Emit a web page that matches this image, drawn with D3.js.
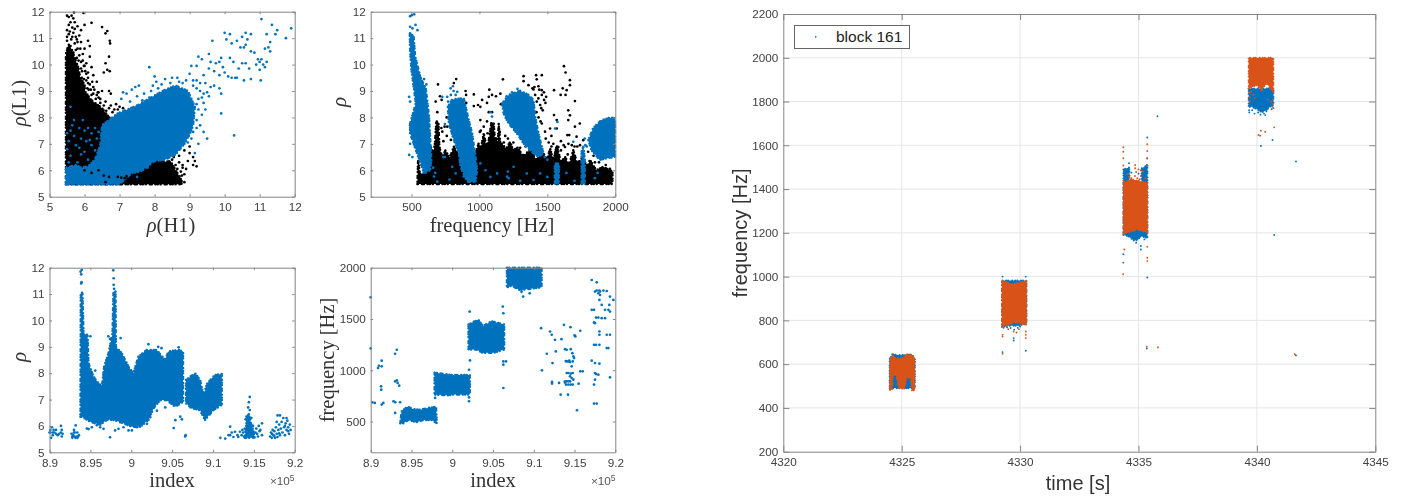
<!DOCTYPE html>
<html>
<head>
<meta charset="utf-8">
<script src="https://d3js.org/d3.v7.min.js"></script>
<style>
  html, body { margin: 0; background: #fff; }
  svg { display: block; filter: blur(0.4px); }
  text { font-family: "Liberation Sans", Arial, sans-serif; fill: #404040; }
  .math { font-family: "Liberation Serif", "DejaVu Serif", serif; fill: #333; }
</style>
</head>
<body>
<svg id="chart" width="1414" height="496"></svg>
<script>
// Colours
const BLUE = '#0072BD';
const ORANGE = '#D95319';
const BLACK = '#000000';

// Tick labels
const rhoTicks = [5, 6, 7, 8, 9, 10, 11, 12];
const freqTicksTop = [500, 1000, 1500, 2000];
const freqTicksBottom = [500, 1000, 1500, 2000];
const indexTicks = [8.9, 8.95, 9, 9.05, 9.1, 9.15, 9.2];
const timeTicks = [4320, 4325, 4330, 4335, 4340, 4345];
const freqTicksRight = [200, 400, 600, 800, 1000, 1200, 1400, 1600, 1800, 2000, 2200];

// rho(H1) vs rho(L1)
const h1l1BlackClouds = [
  [[5.47,5.47],[5.47,10.4],[5.55,10.75],[5.64,10.55],[5.72,10.25],[5.82,9.9],[5.87,9.55],[5.97,9.3],[6.03,8.95],[6.2,8.65],[6.5,8.35],[6.7,8.0],[7.2,7.9],[7.6,7.2],[8.2,6.3],[8.45,6.35],[8.6,6.0],[8.72,5.75],[8.8,5.5],[8.7,5.47]]
];
const h1l1BlackDots = [
  [5.5,11.85],[5.55,11.8],[5.63,11.85],[5.7,11.97],[5.68,11.75],[5.6,11.6],[5.72,11.6],[5.55,11.5],[5.65,11.4],[5.8,11.45],[5.97,11.95],[6.0,11.5],[6.2,11.58],[6.5,11.42],[6.65,11.27],[6.6,11.18],[6.72,10.9],[6.73,10.8],[6.7,10.3],[6.6,10.05],[6.65,9.8],[6.55,9.7],[6.72,9.75],[6.1,10.9],[6.0,10.6],[6.15,10.3],[5.9,10.85],[6.15,10.7],[5.95,10.4],[5.85,11.1],[5.9,11.3],[6.25,9.6],[6.1,9.5],[6.35,9.35],[6.5,9.0],[6.7,9.0],[6.75,8.9],[6.4,8.95],[6.6,8.6],[6.75,8.45],[6.9,8.5],[7.0,8.4],[6.2,9.9],[6.35,8.85],[5.9,9.85],[6.05,10.05],[6.25,9.15],[6.45,8.7],[6.85,8.3],[7.05,8.1],[9.0,6.65],[9.1,6.5],[9.15,6.35],[9.2,6.15],[9.1,6.2],[8.95,6.35],[8.85,6.75],[9.0,6.9],[8.9,6.05],[8.8,6.2],[8.85,5.85],[8.75,5.6],
  [5.5,10.9],[5.55,11.15],[5.62,10.95],[5.68,11.2],[5.75,11.05],[5.6,10.7],[5.72,10.8],[5.8,10.6],[5.52,10.6],[5.85,10.35],[5.78,10.25],[5.9,10.1],[5.68,10.45],[5.98,9.95],[6.02,9.75],[5.93,9.75],[6.1,9.7],[6.05,9.4],[6.15,9.25],[6.22,9.35],[6.12,9.05],[6.28,9.05],[6.38,8.95],[6.2,8.85],[6.32,8.7],[6.45,8.55],[6.55,8.45],[6.62,8.25],[6.7,8.35],[6.8,8.2],[6.88,8.05],[7.0,7.95],[6.95,8.3],[7.1,8.35],[6.6,8.05],[5.55,10.45],[5.65,11.05],[5.8,10.85],[5.75,10.55],
  [5.5,11.3],[5.58,11.25],[5.72,11.35],[5.78,10.95],[5.5,11.05],[5.88,10.6],[5.83,10.15],[5.95,10.15],[6.0,9.95],[6.05,9.65],[6.1,9.3],[6.18,9.05],[6.25,8.9],[6.4,8.75],[5.92,9.5],[5.98,9.45],[6.0,9.2],[6.08,9.1],
  [8.2,6.35],[8.4,6.5],[8.5,6.4],[8.6,6.2],[8.7,6.3],[8.8,6.1],[8.3,6.1],[8.75,5.95],[8.85,5.55],[8.65,6.05],[8.55,6.5],[8.7,6.55],[8.78,5.8]
];
const h1l1BlueClouds = [
  [[5.47,5.47],[5.47,6.1],[5.75,6.2],[5.9,6.1],[6.1,6.15],[6.3,6.4],[6.45,6.95],[6.5,7.7],[6.95,8.15],[7.5,8.45],[7.9,8.75],[8.3,9.05],[8.6,9.2],[8.95,9.0],[9.15,8.4],[9.1,7.7],[9.0,7.35],[8.85,7.0],[8.6,6.6],[8.3,6.4],[8.0,6.35],[7.6,5.95],[7.35,5.9],[7.1,5.6],[7.0,5.47]]
];
const h1l1BlueDots = [
  [11.9,11.37],[11.75,11.0],[11.5,11.3],[11.35,11.5],[11.05,11.72],[11.45,11.15],[11.3,10.85],[11.2,11.15],[11.25,10.65],[11.15,10.6],[11.3,10.5],[10.6,11.2],[10.5,11.05],[10.75,11.15],[10.65,10.95],[10.6,10.75],[10.55,10.65],[10.75,10.5],[10.85,10.45],[10.95,10.2],[11.0,10.1],[11.05,10.2],[11.1,10.0],[11.2,10.1],[10.9,10.0],[11.0,9.8],[11.15,9.9],[10.6,10.05],[10.5,10.05],[10.7,9.85],[10.4,9.85],[10.35,9.5],[10.55,9.4],[10.75,9.45],[11.03,9.4],[10.1,9.55],[10.2,9.5],[10.3,9.5],[10.0,11.2],[10.15,11.15],[10.05,10.95],[10.2,10.8],[10.35,10.9],[10.45,10.65],[9.65,10.9],[9.55,10.4],[9.9,10.25],[10.15,10.25],[10.25,10.1],[9.85,10.1],[9.6,10.1],[9.75,10.05],[9.95,9.9],[10.0,9.7],[9.85,9.6],[9.7,9.75],[9.55,9.85],[9.4,9.6],[9.25,10.3],[9.2,9.95],[9.35,10.2],[9.05,9.95],[9.0,9.65],[9.2,9.4],[9.3,9.3],[9.45,9.3],[9.6,9.15],[9.7,9.2],[9.85,9.1],[9.9,8.15],[10.27,7.32],[9.9,8.9],[9.55,8.8],[9.4,8.55],[9.35,8.1],[9.3,7.7],[9.4,7.45],[9.5,7.2],[9.25,7.0],[9.15,6.65],[7.85,9.9],[8.0,9.55],[8.05,9.35],[7.95,9.2],[8.3,9.45],[8.5,9.5],[8.65,9.5],[8.8,9.3],[7.45,9.15],[7.55,9.2],[7.35,9.05],[7.1,8.95],[7.2,8.9],[7.5,8.8],[7.7,8.9],[7.85,8.75],[7.05,8.7],[7.3,8.6],[9.3,9.0],[9.5,8.95],[9.2,9.1],[9.1,9.2],[9.4,8.9],[9.25,8.7],[9.35,8.75],[9.2,8.5],[9.45,8.3],[9.1,9.4],[8.9,9.4],[8.7,9.35],[8.45,9.3],[8.2,9.25],[8.1,9.1],[7.9,9.0],[7.65,8.65],[9.25,8.3],[9.2,7.9],[9.2,7.6],[9.1,7.45],[9.05,7.2],[8.95,7.05],
  [5.6,8.4],[5.7,7.9],[5.85,7.6],[6.0,7.5],[6.2,7.4],[5.6,7.5],[5.7,7.3],[5.9,7.2],[6.3,7.6],[6.1,7.6],[5.55,7.1],[5.75,6.95],[6.05,7.1],[6.2,6.95],[5.5,6.8],[5.6,6.55],[5.9,6.6],[6.1,6.4],[5.55,6.3],[5.8,6.3],[6.35,7.2],[6.4,7.45],[5.65,7.7],[5.95,7.9],[6.15,7.15],[5.5,7.4],[5.85,6.85],[6.0,6.7],[6.3,6.75],[7.0,5.7],[7.2,5.8],[7.5,5.75],[7.8,6.1]
];
// black dots that lie over the blue cloud
const h1l1BlackOverDots = [
  [6.95,5.75],[7.05,5.72],[7.15,5.7],[7.2,5.78],[7.4,5.5],[7.5,5.55],[6.6,5.55],[6.4,6.0],[6.2,5.9],[6.0,6.0],[6.7,5.75],[6.55,5.8]
];

// frequency vs rho
const freqRhoBlackClouds = [
  [[544,5.48],[549,6.39],[561,5.88],[605,5.88],[642,6.89],[660,6.6],[673,7.02],[683,7.84],[698,7.84],[705,6.89],[725,6.5],[751,6.76],[780,6.45],[812,6.89],[856,6.51],[971,6.64],[995,7.02],[1010,6.8],[1032,7.39],[1050,6.9],[1069,7.14],[1088,7.8],[1105,7.8],[1115,7.0],[1122,7.27],[1135,6.9],[1142,7.75],[1155,6.9],[1166,7.02],[1195,6.8],[1227,7.08],[1250,6.7],[1276,6.89],[1320,6.55],[1374,6.76],[1420,6.4],[1471,6.64],[1500,6.4],[1520,6.83],[1545,6.35],[1569,6.95],[1600,6.3],[1630,6.51],[1660,6.2],[1691,6.76],[1720,6.25],[1764,6.51],[1790,6.1],[1813,6.39],[1860,6.0],[1911,6.13],[1979,5.95],[1979,5.48]]
];
const freqRhoBlackDots = [
  [695,9.25],[678,8.6],[710,8.8],[690,8.2],[722,8.66],[759,8.0],[744,7.65],[727,7.46],[764,7.65],[829,9.45],[812,9.3],[898,9.0],[902,8.85],[903,8.55],[959,8.87],[959,8.43],[990,8.47],[1007,8.4],[1073,9.05],[1020,8.66],[1056,8.55],[1122,8.8],[1093,8.85],[1069,8.78],[1173,9.44],[1154,8.9],[1158,8.5],[1093,8.2],[1069,8.2],[1007,7.9],[1032,7.65],[1003,7.45],[1056,7.85],[1325,9.56],[1325,9.37],[1417,9.6],[1422,9.44],[1459,9.6],[1622,9.94],[1634,9.7],[1666,9.41],[1666,9.22],[1642,9.03],[1613,9.1],[1549,9.03],[1598,8.85],[1634,8.85],[1703,8.62],[1654,8.27],[1666,8.08],[1654,7.9],[1549,8.09],[1569,7.9],[1739,7.77],[1703,7.65],[1569,7.58],[1647,7.33],[1661,7.33],[1544,7.0],[1581,6.88],[1630,6.88],[1715,7.27],[1764,7.14],
  [1361,9.22],[1398,9.06],[1434,9.18],[1459,9.03],[1410,8.85],[1434,8.72],[1459,8.85],[1422,8.6],[1447,8.47],[1476,8.66],[1491,8.78],[1486,8.55],[1466,8.27],[1459,7.77],[1483,7.46],[1520,7.58],[1488,7.2],[1510,7.05],[1530,7.3],[1600,7.1],[1655,7.0],[1680,6.95],[1720,6.9],[1740,6.95],[1800,6.7],[1840,6.55],[1030,7.2],[1010,7.5],[1060,7.4],[1150,7.45],[1190,7.3],[1210,7.2],[760,7.3],[735,7.1],[790,7.15],[720,7.6],[1420,8.2],[1435,8.0],[1450,7.85],[1405,9.15],[1390,9.1],[1440,9.05],[1475,8.95],[1455,8.35],[1600,6.75],[1650,6.6],[1700,6.9],[1620,6.95],[1560,6.7],[1530,6.9],[1880,6.3],[1930,6.2],[1960,6.05],[1850,6.3],[1250,7.05],[1300,6.85],[1340,6.9],[1180,7.05]
];
const freqRhoBlueClouds = [
  [[488,11.12],[515,11.12],[527,10.3],[568,9.48],[605,9.1],[629,8.03],[646,6.39],[637,6.0],[593,5.88],[568,6.26],[532,6.77],[490,7.4],[490,7.77],[532,8.53],[500,9.8],[490,10.55]],
  [[768,8.4],[800,8.68],[885,8.72],[915,8.03],[946,7.4],[971,6.51],[983,6.0],[971,5.57],[910,5.57],[861,6.13],[849,6.64],[812,7.14],[776,7.77]],
  [[1168,8.53],[1215,8.85],[1300,9.01],[1361,8.85],[1398,8.66],[1410,8.03],[1434,7.4],[1471,6.64],[1434,6.51],[1398,6.64],[1324,7.02],[1276,7.4],[1215,7.77],[1178,8.15]],
  [[1802,7.14],[1837,7.59],[1898,7.9],[1971,8.0],[1998,7.96],[1998,6.51],[1934,6.45],[1885,6.39],[1824,6.77]],
  [[1555,5.5],[1555,6.25],[1585,6.25],[1585,5.5]],
  [[1752,5.5],[1752,6.7],[1765,6.9],[1775,6.4],[1775,5.5]]
];
const freqRhoBlueDots = [
  [502,11.87],[520,11.9],[490,11.83],[544,11.3],[490,11.43],[507,11.37],[490,11.18],[530,11.5],[568,9.47],[593,9.45],[598,9.03],[490,8.6],[483,8.78],[490,7.7],[490,7.0],[483,6.58],[507,6.5],[527,6.9],[788,9.1],[805,9.18],[763,8.78],[837,8.97],[727,8.78],[746,7.75],[734,6.5],[746,6.5],[1574,7.83],[1557,7.58],[1691,7.08],[666,5.76],[690,5.57],[800,6.13],[825,5.88],[885,5.76],[910,5.9],[1044,6],[1081,5.75],[1130,5.88],[1203,5.76],[1252,6.13],[1349,5.88],[1447,5.88],[1398,5.63],[1007,6.26],[1081,8.2],[1093,8.03],[660,6.1],[675,5.9],[780,5.65],[1215,5.7],[1210,5.95],[1300,5.6],[1500,5.75],[1640,5.9],[1700,5.6],[1850,5.7],[1870,5.9],
  [810,9.0],[790,8.85],[825,8.85],[770,8.6],[1280,9.08],[1240,8.95],[1200,8.8],[1500,6.4],[1480,6.5],[1775,7.2],[1780,6.95],[1790,6.9],[510,9.9],[520,9.6],[580,9.3],[610,9.25]
];

// index vs rho (in units of 1e5)
const indexRhoClouds = [
  [[8.9379,6.35],[8.9383,11.05],[8.9403,11.05],[8.9416,9.5],[8.9465,9.45],[8.9477,8.38],[8.9538,7.87],[8.96,7.62],[8.964,7.49],[8.9669,8.25],[8.9722,8.75],[8.9771,9.5],[8.9783,11.1],[8.9808,11.1],[8.9812,9.0],[8.9885,8.75],[8.9966,8.25],[8.9995,8.12],[9.0027,8.0],[9.0088,8.63],[9.019,8.88],[9.0312,8.88],[9.0414,8.5],[9.0455,8.82],[9.0577,8.88],[9.0634,8.82],[9.0634,6.92],[9.0537,6.73],[9.0435,6.98],[9.0353,6.98],[9.0272,6.67],[9.0211,6.23],[9.0109,5.97],[9.0007,5.97],[8.9905,6.1],[8.9783,6.23],[8.9702,6.23],[8.962,6.04],[8.9498,6.16],[8.9398,6.35]],
  [[9.0671,7.74],[9.078,8.0],[9.0842,7.74],[9.0883,7.17],[9.0932,7.62],[9.1026,7.93],[9.1108,7.97],[9.1108,6.8],[9.1005,6.6],[9.0903,6.23],[9.0842,6.6],[9.0737,6.67],[9.0671,6.86]],
  [[9.139,5.55],[9.141,6.1],[9.1435,6.5],[9.1465,6.1],[9.15,5.75],[9.151,5.55]]
];
const indexRhoDots = [
  [8.901,5.75],[8.903,5.95],[8.902,5.55],[8.904,5.75],[8.906,5.75],[8.908,5.85],[8.908,5.7],[8.91,5.65],[8.912,5.7],[8.914,5.75],[8.914,6.0],[8.915,5.85],[8.915,5.6],[8.916,5.7],[8.905,5.85],[8.904,5.65],[8.9,5.75],[8.901,5.85],
  [8.927,5.7],[8.928,5.55],[8.929,5.65],[8.93,5.85],[8.93,5.6],[8.931,5.75],[8.932,6.02],[8.933,5.6],[8.934,5.75],[8.935,5.6],[8.936,5.65],[8.928,5.6],[8.93,5.75],[8.932,5.55],[8.934,5.55],
  [8.938,11.85],[8.9395,11.92],[8.9388,11.75],[8.9388,11.4],[8.9392,11.45],[8.974,5.57],[8.978,11.9],[8.9785,11.6],[8.9785,11.35],[8.979,11.2],[8.972,9.4],[8.974,9.3],[8.987,9.33],[8.956,8.1],[8.95,9.4],[9.015,8.7],[9.021,9.1],[9.033,9],[9.037,8.95],[9.058,8.98],[9.052,5.92],[9.054,6.22],[9.06,6.35],[9.062,6.25],[9.066,5.6],[9.0665,5.65],[9.109,5.55],[9.115,5.52],[9.121,5.97],[9.123,5.75],[9.119,5.65],[9.121,5.65],[9.127,5.78],[9.131,5.58],[9.133,5.78],[9.125,5.58],[9.16,6.1],[9.158,5.85],[9.156,6.0],
  [8.9457,5.9],[8.9478,5.88],[8.9518,5.95],[8.9579,6.03],[8.962,5.95],[8.9661,5.89],[8.9803,5.83],[8.9844,5.89],[8.9905,5.95],[8.9967,5.83],[9.0008,5.83],[9.0069,5.95],[9.0192,6.08],[9.0232,6.33],[9.0314,6.58],[9.0416,6.7],
  [9.17,5.6],[9.171,5.75],[9.172,5.55],[9.173,5.85],[9.174,5.65],[9.175,5.8],[9.176,5.55],[9.177,5.95],[9.178,5.7],[9.178,6.15],[9.179,6.4],[9.18,5.85],[9.181,6.05],[9.182,6.4],[9.182,5.65],[9.183,5.9],[9.184,6.15],[9.185,5.75],[9.186,6.3],[9.187,5.95],[9.188,6.0],[9.188,5.65],[9.189,6.1],[9.19,5.85],[9.19,6.3],[9.191,6.2],[9.192,5.8],[9.192,5.95],[9.193,5.7],[9.194,6.05],[9.195,5.85],[9.172,5.7],[9.175,5.62],[9.179,5.58],[9.181,5.72],
  [9.135,5.65],[9.137,5.75],[9.138,5.6],[9.139,5.9],[9.14,6.25],[9.141,6.35],[9.142,6.3],[9.143,6.7],[9.144,6.9],[9.145,7.1],[9.145,6.6],[9.147,6.3],[9.149,6.0],[9.15,5.7],[9.152,5.75],[9.154,5.7],[9.157,5.8],[9.16,5.65],[9.136,5.85],[9.153,5.9],[9.155,5.6],[9.13,5.65]
];

// index vs frequency (in units of 1e5)
const indexFreqClouds = [
  [[8.9363,484],[8.9379,597],[8.9449,645],[8.9522,620],[8.9604,613],[8.9686,629],[8.9768,639],[8.9801,645],[8.981,484],[8.9747,516],[8.9645,516],[8.9563,494],[8.9461,516],[8.9399,484]],
  [[8.9784,975],[8.9788,975],[8.9992,953],[9.0216,953],[9.0216,763],[9.0008,763],[8.9947,757],[8.9784,763]],
  [[9.02,1445],[9.0318,1494],[9.0379,1429],[9.0482,1478],[9.0637,1445],[9.0637,1202],[9.0502,1170],[9.0379,1170],[9.0298,1202],[9.02,1202]],
  [[9.0671,2000],[9.1096,2000],[9.1096,1809],[9.0994,1799],[9.0829,1783],[9.0727,1825],[9.0671,1809]]
];
const indexFreqDots = [
  [8.9,1712],[8.9,1213],[8.902,688],[8.905,681],[8.909,1022],[8.91,1044],[8.9135,1093],[8.9135,1038],[8.9127,843],[8.913,811],[8.9135,665],[8.9155,681],[8.93,1161],[8.932,1200],[8.928,698],[8.93,688],[8.936,688],[8.93,584],[8.93,892],[8.932,902],[8.933,876],[8.935,850],
  [8.979,730],[9.0206,736],[9.0206,698],[9.0206,1005],[9.0218,1096],[9.0214,1572],[9.062,1621],[9.0627,1556],[9.0627,1086],[9.0627,1054],[9.066,1086],[9.0627,827],
  [9.087,1718],[9.095,1750],[9.085,1765],[9.109,1410],[9.11,999],[9.116,1161],[9.12,1378],[9.122,1346],[9.123,1070],[9.1224,886],[9.1224,870],[9.126,1297],[9.127,1184],[9.131,876],[9.134,1303],[9.133,762],[9.137,1443],[9.142,762],[9.145,1420],[9.15,1340],[9.151,1330],[9.153,610],[9.157,1385],[9.157,990],[9.16,990],[9.155,869],
  [9.1383,1206],[9.1404,1200],[9.1453,1206],[9.1473,1167],[9.1486,1135],[9.1494,1119],[9.1478,1086],[9.1424,1086],[9.1445,1080],[9.1404,1086],[9.1465,1038],[9.1424,973],[9.1453,967],[9.1478,973],[9.1404,973],[9.1445,941],[9.1383,892],[9.1404,892],[9.1424,892],[9.1445,892],[9.1465,924],[9.1486,908],[9.1396,860],[9.1424,860],[9.1453,860],[9.1478,860],[9.1383,880],[9.1392,1090],[9.1435,1095],
  [9.1711,1880],[9.1772,1857],[9.1805,1777],[9.1751,1767],[9.1772,1777],[9.1813,1767],[9.1854,1777],[9.1895,1773],[9.1792,1751],[9.1813,1734],[9.1711,1589],[9.1739,1589],[9.1805,1686],[9.1833,1637],[9.1874,1589],[9.1915,1589],[9.1935,1572],[9.1927,1637],[9.1976,1686],[9.1935,1718],[9.1764,1514],[9.1792,1514],[9.1833,1508],[9.1874,1508],[9.1751,1459],[9.1739,1466],[9.1805,1378],[9.1805,1346],[9.1895,1346],[9.1935,1346],[9.1739,1248],[9.1764,1248],[9.1805,1248],[9.1895,1216],[9.1915,1216],[9.1711,1093],[9.1751,1070],[9.1805,1064],[9.1751,973],[9.1764,963],[9.1792,957],[9.1739,860],[9.1751,908],[9.1935,931],[9.1739,675],[9.1772,675]
];

// time vs frequency, block 161
const blockBlueClouds = [
  [[4324.49,490],[4324.49,625],[4324.62,645],[4325.1,640],[4325.35,645],[4325.56,625],[4325.56,490],[4325.1,490]],
  [[4329.23,770],[4329.23,982],[4330.27,982],[4330.27,785],[4329.9,775],[4329.5,775]],
  [[4334.36,1190],[4334.36,1490],[4334.62,1500],[4334.62,1400],[4335.13,1400],[4335.13,1495],[4335.38,1510],[4335.38,1175],[4335.1,1185],[4334.95,1165],[4334.75,1170],[4334.55,1185]],
  [[4339.65,1780],[4339.65,1860],[4340.7,1860],[4340.7,1785],[4340.55,1775],[4340.4,1760],[4340.2,1750],[4340.0,1765],[4339.8,1775]]
];
const blockOrangeClouds = [
  [[4324.5,483],[4324.5,616],[4324.6,642],[4324.78,627],[4325.02,627],[4325.22,645],[4325.48,642],[4325.55,616],[4325.55,480],[4325.43,480],[4325.36,541],[4325.2,533],[4325.13,489],[4324.87,489],[4324.78,544],[4324.64,552],[4324.6,483]],
  [[4329.23,772],[4329.23,982],[4329.7,965],[4330.27,982],[4330.27,780],[4329.8,790]],
  [[4334.36,1195],[4334.36,1430],[4334.7,1445],[4335.38,1430],[4335.38,1200],[4334.95,1215]],
  [[4339.65,1860],[4339.65,2000],[4340.7,2000],[4340.7,1840],[4340.4,1885],[4340.2,1850],[4340.0,1875]]
];
const blockBlueDots = [
  [4329.26,1000],[4330.24,1000],[4329.26,655],[4330.24,661],[4329.73,719],[4329.73,708],[4329.3,766],[4329.45,768],[4329.6,765],[4329.75,758],[4329.9,766],[4330.0,772],[4330.15,785],
  [4324.6,645],[4324.7,635],[4324.85,635],[4325.05,642],[4325.2,635],[4325.45,635],[4325.5,615],
  [4335.37,1636],[4334.6,1518],[4335.8,1733],[4334.36,1102],[4334.36,1064],[4335.1,1140],[4335.1,1124],[4335.37,996],[4334.38,1480],[4334.5,1460],[4335.3,1480],[4335.35,1510],[4335.37,1540],[4334.45,1430],[4335.25,1440],[4334.75,1290],[4334.85,1240],[4334.95,1260],[4334.6,1220],[4335.05,1210],[4335.2,1230],[4334.8,1165],[4335.25,1170],[4334.9,1155],[4334.7,1475],[4335.0,1470],
  [4340.66,1624],[4340.17,1597],[4341.65,1526],[4340.73,1190],[4339.7,1775],[4339.8,1760],[4339.95,1785],[4340.2,1760],[4340.3,1745],[4340.4,1755],[4340.55,1800],[4340.1,1830],[4340.0,1850],[4340.25,1880],[4340.4,1890],[4340.55,1895],[4340.6,1895],[4340.3,1930],[4339.67,1760],[4339.9,1745],[4340.05,1750],[4340.15,1740],[4340.35,1738],[4339.75,1790],[4340.45,1785],[4340.62,1765],[4339.68,1750],[4340.7,1770],
  [4335.35,672],[4341.65,640]
];
const blockOrangeDots = [
  [4329.26,647],[4329.26,734],[4329.26,726],[4330.24,749],[4330.24,734],[4330.24,719],[4329.73,749],[4329.95,760],[4329.5,760],[4329.85,745],
  [4334.36,1591],[4334.36,1571],[4334.36,1541],[4334.36,1508],[4335.37,1605],[4335.37,1574],[4335.37,1541],[4335.37,1506],[4334.86,1510],[4334.86,1495],[4335.0,1490],[4335.1,1485],[4335.2,1480],[4334.4,1124],[4335.37,1136],[4335.37,1086],[4335.37,1071],[4334.35,1011],[4334.36,1440],[4334.55,1470],[4334.75,1440],[4335.05,1445],[4335.3,1450],[4334.5,1430],[4334.7,1450],[4334.85,1460],[4334.95,1450],[4335.1,1460],[4334.6,1455],[4334.9,1478],
  [4340.73,1682],[4340.17,1667],[4340.35,1662],[4340.07,1647],[4340.14,1644],[4340.6,1800],[4340.65,1790],[4339.7,1820],[4340.45,1810],[4339.85,1830],[4339.7,1800],[4340.68,1810],[4340.66,1775],[4339.68,1840],[4340.65,1850],[4339.75,1845],[4339.9,1815],
  [4335.35,680],[4335.82,677],[4341.6,645]
];
const legendLabel = 'block 161';

const svg = d3.select('#chart');

function drawClouds(g, clouds, x, y, color, edge) {
  const line = d3.line().x(d => x(d[0])).y(d => y(d[1])).curve(d3.curveLinearClosed);
  g.append('g').selectAll('path')
    .data(clouds)
    .enter()
    .append('path')
    .attr('d', line)
    .attr('fill', color)
    .attr('stroke', color)
    .attr('stroke-width', edge)
    .attr('stroke-linecap', 'round')
    .attr('stroke-dasharray', '0 2.3 0 3.7 0 1.9 0 4.1 0 2.9');
}

function drawDots(g, dots, x, y, color, r) {
  g.append('g').selectAll('circle')
    .data(dots)
    .enter()
    .append('circle')
    .attr('cx', d => x(d[0]))
    .attr('cy', d => y(d[1]))
    .attr('r', r)
    .attr('fill', color);
}

function drawPanel(p) {
  const x = d3.scaleLinear().domain(p.xDomain).range([p.left, p.right]);
  const y = d3.scaleLinear().domain(p.yDomain).range([p.bottom, p.top]);
  const g = svg.append('g');

  // Grid
  if (p.grid) {
    g.append('g').selectAll('line').data(p.xTicks.slice(1, -1)).enter().append('line')
      .attr('x1', d => x(d)).attr('x2', d => x(d))
      .attr('y1', p.top).attr('y2', p.bottom)
      .attr('stroke', '#e6e6e6');
    g.append('g').selectAll('line').data(p.yTicks.slice(1, -1)).enter().append('line')
      .attr('y1', d => y(d)).attr('y2', d => y(d))
      .attr('x1', p.left).attr('x2', p.right)
      .attr('stroke', '#e6e6e6');
  }

  // Marks
  p.layers.forEach(l => {
    if (l.clouds) drawClouds(g, l.clouds, x, y, l.color, p.edge);
    if (l.dots) drawDots(g, l.dots, x, y, l.color, p.r);
  });

  // Box and ticks on all four sides
  const fmt = d => String(d);
  const sides = [
    [d3.axisBottom(x).tickValues(p.xTicks).tickFormat(fmt), 0, p.bottom, 6.5],
    [d3.axisTop(x).tickValues(p.xTicks).tickFormat(''), 0, p.top, 5],
    [d3.axisLeft(y).tickValues(p.yTicks).tickFormat(fmt), p.left, 0, 5],
    [d3.axisRight(y).tickValues(p.yTicks).tickFormat(''), p.right, 0, 5]
  ];
  sides.forEach(([axis, tx, ty, pad]) => {
    const a = g.append('g')
      .attr('transform', `translate(${tx},${ty})`)
      .call(axis.tickSizeInner(-p.tick).tickSizeOuter(0).tickPadding(pad));
    a.selectAll('path, line').attr('stroke', '#858585');
    a.selectAll('text')
      .style('font-size', '11.7px')
      .style('fill', '#404040');
  });
}

drawPanel({
  left: 49.5, right: 294.7, top: 11.7, bottom: 196.7,
  xDomain: [5, 12], yDomain: [5, 12], xTicks: rhoTicks, yTicks: rhoTicks, tick: 2.5, r: 1.35, edge: 2.6,
  layers: [
    { clouds: h1l1BlackClouds, dots: h1l1BlackDots, color: BLACK },
    { clouds: h1l1BlueClouds, dots: h1l1BlueDots, color: BLUE },
    { dots: h1l1BlackOverDots, color: BLACK }
  ]
});
drawPanel({
  left: 370.7, right: 615.3, top: 11.7, bottom: 196.7,
  xDomain: [200, 2000], yDomain: [5, 12], xTicks: freqTicksTop, yTicks: rhoTicks, tick: 2.5, r: 1.35, edge: 2.6,
  layers: [
    { clouds: freqRhoBlackClouds, dots: freqRhoBlackDots, color: BLACK },
    { clouds: freqRhoBlueClouds, dots: freqRhoBlueDots, color: BLUE }
  ]
});
drawPanel({
  left: 49.5, right: 294.7, top: 267.7, bottom: 452.3,
  xDomain: [8.9, 9.2], yDomain: [5, 12], xTicks: indexTicks, yTicks: rhoTicks, tick: 2.5, r: 1.35, edge: 2.6,
  layers: [{ clouds: indexRhoClouds, dots: indexRhoDots, color: BLUE }]
});
drawPanel({
  left: 370.7, right: 615.3, top: 267.7, bottom: 452.3,
  xDomain: [8.9, 9.2], yDomain: [200, 2000], xTicks: indexTicks, yTicks: freqTicksBottom, tick: 2.5, r: 1.35, edge: 2.6,
  layers: [{ clouds: indexFreqClouds, dots: indexFreqDots, color: BLUE }]
});
drawPanel({
  left: 783.3, right: 1375.3, top: 14, bottom: 451.7,
  xDomain: [4320, 4345], yDomain: [200, 2200], xTicks: timeTicks, yTicks: freqTicksRight, tick: 6, r: 0.95, edge: 1.9, grid: true,
  layers: [
    { clouds: blockBlueClouds, dots: blockBlueDots, color: BLUE },
    { clouds: blockOrangeClouds, dots: blockOrangeDots, color: ORANGE }
  ]
});

// Legend
const legend = svg.append('g');
legend.append('rect')
  .attr('x', 794.5).attr('y', 25.5).attr('width', 115).attr('height', 23)
  .attr('fill', '#fff').attr('stroke', '#666');
legend.append('circle').attr('cx', 815.7).attr('cy', 36.8).attr('r', 0.85).attr('fill', BLUE);
legend.append('text').attr('x', 836).attr('y', 42.3)
  .style('font-size', '15.5px').style('fill', '#222').text(legendLabel);

// Axis labels
function mathLabel(x, y, parts, rotate, size) {
  const t = svg.append('text').attr('class', 'math')
    .attr('text-anchor', 'middle')
    .style('font-size', size + 'px')
    .attr('transform', `translate(${x},${y})` + (rotate ? ' rotate(-90)' : ''));
  parts.forEach(([s, italic]) => {
    t.append('tspan').style('font-style', italic ? 'italic' : 'normal').text(s);
  });
}
mathLabel(171, 232, [['ρ', true], ['(H1)', false]], false, 20.5);
mathLabel(26, 103, [['ρ', true], ['(L1)', false]], true, 20.5);
mathLabel(492, 232, [['frequency [Hz]', false]], false, 20.5);
mathLabel(346, 102, [['ρ', true]], true, 21);
mathLabel(172, 487, [['index', false]], false, 20.5);
mathLabel(26, 357, [['ρ', true]], true, 21);
mathLabel(493, 487, [['index', false]], false, 20.5);
mathLabel(334, 360, [['frequency [Hz]', false]], true, 20.5);

// x10^5 multipliers
[294.5, 615.5].forEach(xr => {
  const t = svg.append('text')
    .attr('x', xr).attr('y', 485)
    .attr('text-anchor', 'end')
    .style('font-size', '11.7px')
    .style('fill', '#555');
  t.append('tspan').text('×10');
  t.append('tspan').attr('dy', -4).style('font-size', '8.5px').text('5');
});

svg.append('text').attr('x', 1078).attr('y', 490).attr('text-anchor', 'middle')
  .style('font-family', '"Liberation Sans", Arial, sans-serif')
  .style('font-size', '20px').style('fill', '#333').text('time [s]');
svg.append('text')
  .attr('transform', 'translate(747,233) rotate(-90)')
  .attr('text-anchor', 'middle')
  .style('font-family', '"Liberation Sans", Arial, sans-serif')
  .style('font-size', '20px').style('fill', '#333').text('frequency [Hz]');
</script>
</body>
</html>
